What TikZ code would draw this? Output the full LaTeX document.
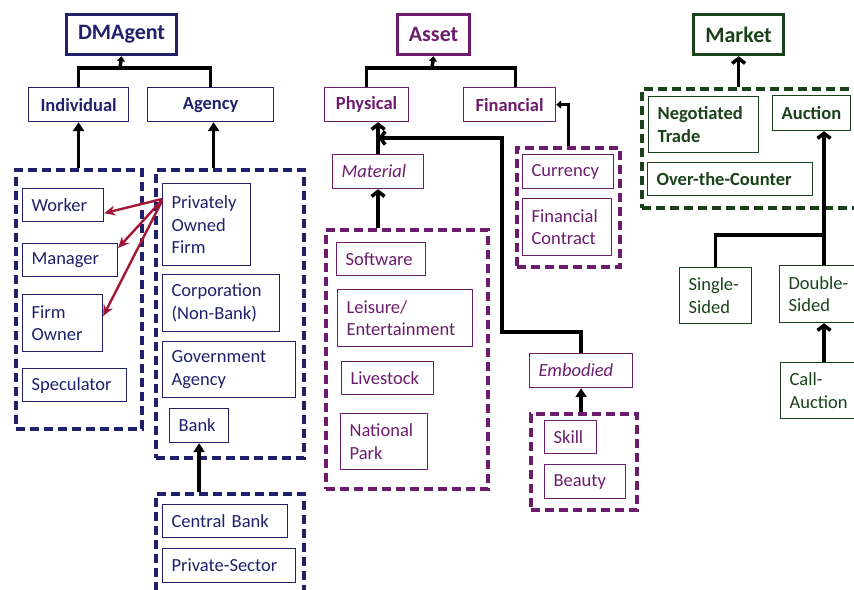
\documentclass[tikz,border=0pt]{standalone}
\usepackage{fontspec}
\setmainfont{Carlito}
\usetikzlibrary{arrows.meta}

\definecolor{agentblue}{RGB}{32,32,108}
\definecolor{assetpurple}{RGB}{108,28,108}
\definecolor{marketgreen}{RGB}{26,66,26}
\definecolor{linkred}{RGB}{162,22,54}

\tikzset{
  cell/.style={draw, line width=1.2pt, anchor=north west, inner xsep=9pt, inner ysep=0pt,
    align=left, font=\fontsize{18.5}{22.5}\selectfont},
  head/.style={cell, align=center, font=\bfseries\fontsize{18.5}{22.5}\selectfont},
  root/.style={cell, align=center, line width=3.2pt, inner xsep=0pt, font=\bfseries\fontsize{22}{26}\selectfont},
  group/.style={draw, anchor=north west, inner sep=0pt, line width=3.6pt, dash pattern=on 9pt off 5pt},
  trunk/.style={line width=3.5pt},
  link/.style={line width=3.5pt, -{Triangle[length=9pt,width=11pt]}},
  barb/.style={line width=3.5pt, -{Straight Barb[length=5pt,width=13pt]}},
  tip/.style={line width=3.5pt, -{Triangle[length=5pt,width=8pt]}},
  owns/.style={linkred, line width=2.4pt, -{Stealth[length=11pt,width=10pt]}}
}

\begin{document}
\begin{tikzpicture}[x=1pt,y=-1pt]
  \useasboundingbox (0,0) rectangle (854,589);
  \clip (0,0) rectangle (854,589);

  \begin{scope}[agentblue]
    \node[root, minimum width=110pt, minimum height=40pt] (dmagent) at (65,13) {DMAgent};
    \node[head, minimum width=100pt, minimum height=34pt] (individual) at (28,87) {Individual};
    \node[head, minimum width=126pt, minimum height=34pt] (agency) at (147,87) {Agency};
    \node[group, minimum width=126pt, minimum height=259pt] (indgroup) at (14,168) {};
    \node[group, minimum width=148pt, minimum height=288pt] (agygroup) at (154,168) {};
    \node[group, minimum width=148pt, minimum height=120pt] (bankgroup) at (154,492) {};
    \node[cell, text width=63pt, minimum height=33pt] (worker) at (22,188) {Worker};
    \node[cell, text width=77pt, minimum height=33pt] (manager) at (22,243) {Manager};
    \node[cell, text width=62pt, minimum height=57pt] (firmowner) at (22,294) {Firm\\Owner};
    \node[cell, text width=86pt, minimum height=33pt] (speculator) at (22,368) {Speculator};
    \node[cell, text width=70pt, minimum height=82pt] (pof) at (162,183) {Privately\\Owned\\Firm};
    \node[cell, text width=99pt, minimum height=57pt] (corp) at (162,274) {Corporation\\(Non-Bank)};
    \node[cell, text width=115pt, minimum height=56pt] (gov) at (162,341) {Government\\Agency};
    \node[cell, text width=41pt, minimum height=34pt] (bank) at (169,408) {Bank};
    \node[cell, text width=107pt, minimum height=33pt] (centralbank) at (162,504) {Central Bank};
    \node[cell, text width=115pt, minimum height=34pt] (privsector) at (162,548) {Private-Sector};
  \end{scope}
  \coordinate (agentjoin) at (120,68);
  \draw[trunk] (individual.north) |- (agentjoin) -| (agency.north);
  \draw[tip] (agentjoin) -- (dmagent.south);
  \draw[link] (individual.south |- indgroup.north) -- (individual.south);
  \draw[link] ([xshift=3pt]agency.south |- agygroup.north) -- ([xshift=3pt]agency.south);
  \draw[link] (bank.south |- bankgroup.north) -- (bank.south);
  \draw[owns] ([yshift=-16pt]pof.north west) -- ([yshift=9pt]worker.south east);
  \draw[owns] ([yshift=-17pt]pof.north west) -- ([yshift=-5pt]manager.north east);
  \draw[owns] ([yshift=-18pt]pof.north west) -- ([yshift=7pt]firmowner.east);

  \begin{scope}[assetpurple]
    \node[root, minimum width=72pt, minimum height=40pt] (asset) at (396,13) {Asset};
    \node[head, minimum width=84pt, minimum height=34pt] (physical) at (324,87) {Physical};
    \node[head, minimum width=92pt, minimum height=34pt] (financial) at (463,87) {Financial};
    \node[cell, text width=73pt, minimum height=34pt, font=\itshape\fontsize{18.5}{22.5}\selectfont] (material) at (332,154) {Material};
    \node[group, minimum width=162pt, minimum height=259pt] (matgroup) at (324,228) {};
    \node[cell, text width=71pt, minimum height=33pt] (software) at (336,242) {Software};
    \node[cell, text width=117pt, minimum height=57pt] (leisure) at (337,289) {Leisure/\\Entertainment};
    \node[cell, text width=74pt, minimum height=33pt] (livestock) at (341,361) {Livestock};
    \node[cell, text width=69pt, minimum height=56pt] (natpark) at (340,413) {National\\Park};
    \node[cell, text width=85pt, minimum height=34pt, font=\itshape\fontsize{18.5}{22.5}\selectfont] (embodied) at (529,353) {Embodied};
    \node[group, minimum width=106pt, minimum height=96pt] (embgroup) at (529,412) {};
    \node[cell, text width=34pt, minimum height=33pt] (skill) at (544,420) {Skill};
    \node[cell, text width=63pt, minimum height=34pt] (beauty) at (544,464) {Beauty};
    \node[group, minimum width=103pt, minimum height=119pt] (fingroup) at (515,146) {};
    \node[cell, text width=73pt, minimum height=34pt] (currency) at (522,154) {Currency};
    \node[cell, text width=71pt, minimum height=57pt] (fincontract) at (522,198) {Financial\\Contract};
  \end{scope}
  \coordinate (assetjoin) at (432,68);
  \coordinate (embbend) at (502,332);
  \coordinate (physin) at (378,138);
  \draw[trunk] (physical.north) |- (assetjoin) -| ([xshift=6pt]financial.north);
  \draw[tip] (assetjoin) -- (asset.south);
  \draw[barb] (material.north) -- (material.north |- physical.south);
  \draw[barb] (embodied.north) |- (embbend) |- (physin);
  \draw[barb] (material.south |- matgroup.north) -- (material.south);
  \draw[link] (embodied.south |- embgroup.north) -- (embodied.south);
  \draw[tip] (fingroup.north) |- (financial.east);

  \begin{scope}[marketgreen]
    \node[root, minimum width=90pt, minimum height=40pt] (market) at (692,13) {Market};
    \node[group, minimum width=240pt, minimum height=119pt] (mktgroup) at (640,87) {};
    \node[head, text width=92pt, minimum height=56pt, align=left] (negotiated) at (648,96) {Negotiated\\Trade};
    \node[head, minimum width=76pt, minimum height=35pt] (auction) at (772,95) {Auction};
    \node[head, text width=147pt, minimum height=33pt, align=left] (otc) at (647,162) {Over-the-Counter};
    \node[cell, text width=54pt, minimum height=56pt] (single) at (679,267) {Single-\\Sided};
    \node[cell, text width=62pt, minimum height=57pt] (double) at (779,265) {Double-\\Sided};
    \node[cell, text width=62pt, minimum height=56pt] (callauction) at (780,362) {Call-\\Auction};
  \end{scope}
  \coordinate (mktjoin) at (824,235);
  \draw[barb] (market.south |- mktgroup.north) -- (market.south);
  \draw[trunk] (single.north) |- (mktjoin);
  \draw[barb] (double.north -| mktjoin) -- (mktjoin |- auction.south);
  \draw[barb] (callauction.north -| mktjoin) -- (double.south -| mktjoin);
\end{tikzpicture}
\end{document}
